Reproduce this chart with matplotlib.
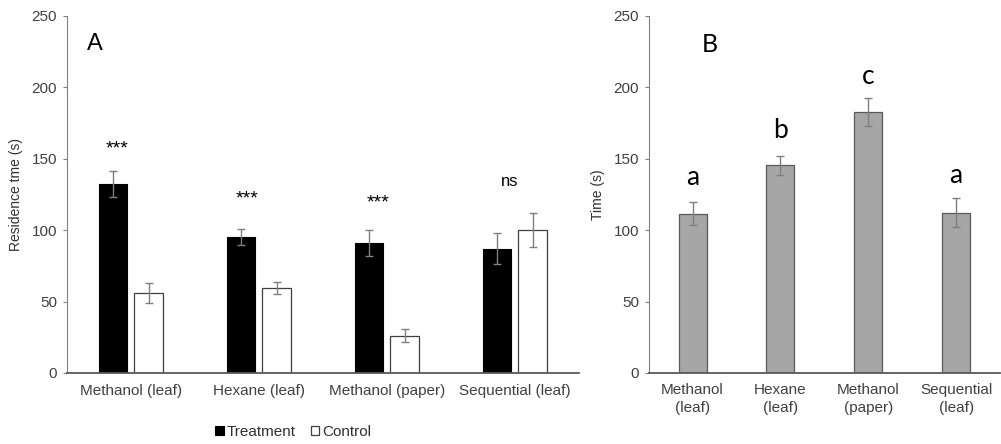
import matplotlib.pyplot as plt
import numpy as np

plt.rcParams['font.family'] = ['Liberation Sans', 'DejaVu Sans']

# Panel A: residence time, treatment vs control
cats_a = ['Methanol (leaf)', 'Hexane (leaf)', 'Methanol (paper)', 'Sequential (leaf)']
treat = [132, 95, 91, 87]
treat_err = [9, 5.5, 9, 11]
ctrl = [56, 59.5, 26, 100]
ctrl_err = [7, 4, 4.5, 12]
sig = ['***', '***', '***', 'ns']
sig_y = [159, 124, 121, 134]

# Panel B: time per extract
cats_b = ['Methanol\n(leaf)', 'Hexane\n(leaf)', 'Methanol\n(paper)', 'Sequential\n(leaf)']
time_b = [111.5, 145.3, 182.5, 112.2]
time_err = [8, 6.5, 10, 10]
letters = ['a', 'b', 'c', 'a']
letter_y = [137, 169.5, 207.5, 138]

tick_col = '#404040'
spine_col = '#808080'
err_col = '#7f7f7f'

fig = plt.figure(figsize=(10.01, 4.44), dpi=100)
ax1 = fig.add_axes([0.0669, 0.16, 0.5115, 0.8046])
ax2 = fig.add_axes([0.648, 0.16, 0.351, 0.8046])

x = np.arange(len(cats_a))
off = 0.14
w = 0.225
ax1.bar(x - off, treat, w, color='black', edgecolor='black', linewidth=0.8, label='Treatment')
ax1.bar(x + off, ctrl, w, color='white', edgecolor='#404040', linewidth=0.9, label='Control')
ax1.errorbar(x - off, treat, yerr=treat_err, fmt='none', ecolor=err_col, elinewidth=1, capsize=3)
ax1.errorbar(x + off, ctrl, yerr=ctrl_err, fmt='none', ecolor=err_col, elinewidth=1, capsize=3)

sig_dx = [-0.11, -0.09, -0.07, -0.04]
for i, (s, yv) in enumerate(zip(sig, sig_y)):
    if s == 'ns':
        ax1.text(i + sig_dx[i], yv, s, ha='center', va='center', fontsize=12, color='black')
    else:
        ax1.text(i + sig_dx[i], yv - 2, s, ha='center', va='center', fontsize=14, color='black')

ax1.text(0.04, 0.92, 'A', transform=ax1.transAxes, fontsize=17, ha='left', va='center')
ax1.set_ylabel('Residence tme (s)', fontsize=10, color='#303030', labelpad=6)

b = np.arange(len(cats_b))
ax2.bar(b, time_b, 0.32, color='#a6a6a6', edgecolor='#595959', linewidth=0.9)
ax2.errorbar(b, time_b, yerr=time_err, fmt='none', ecolor=err_col, elinewidth=1, capsize=3)
for i, (l, yv) in enumerate(zip(letters, letter_y)):
    ax2.text(i, yv, l, ha='center', va='center', fontsize=19, family=['Lato', 'DejaVu Sans'])
ax2.text(0.175, 0.92, 'B', transform=ax2.transAxes, fontsize=18, ha='center', va='center',
         family=['Lato', 'DejaVu Sans'])
ax2.set_ylabel('Time (s)', fontsize=10, color='#303030', labelpad=6)

for ax, cats in ((ax1, cats_a), (ax2, cats_b)):
    ax.set_ylim(0, 250)
    ax.set_xlim(-0.5, len(cats) - 0.5)
    ax.set_yticks([0, 50, 100, 150, 200, 250])
    ax.set_xticks(np.arange(len(cats)))
    ax.set_xticklabels(cats)
    ax.tick_params(axis='y', length=3, color=spine_col, labelsize=11, labelcolor=tick_col, pad=4)
    ax.tick_params(axis='x', length=0, labelsize=11, labelcolor=tick_col, pad=8)
    ax.spines['top'].set_visible(False)
    ax.spines['right'].set_visible(False)
    ax.spines['left'].set_color(spine_col)
    ax.spines['bottom'].set_color('#595959')
    ax.spines['bottom'].set_linewidth(1.3)

ax2.tick_params(axis='x', pad=7)
for lab in ax2.get_xticklabels():
    lab.set_linespacing(1.35)

fig.legend(loc='center', bbox_to_anchor=(0.293, 0.027), ncol=2, frameon=False,
           fontsize=11, handlelength=0.55, handleheight=0.55, handletextpad=0.2,
           columnspacing=1.0, labelcolor='#303030')

fig.savefig('out.png', dpi=100)
